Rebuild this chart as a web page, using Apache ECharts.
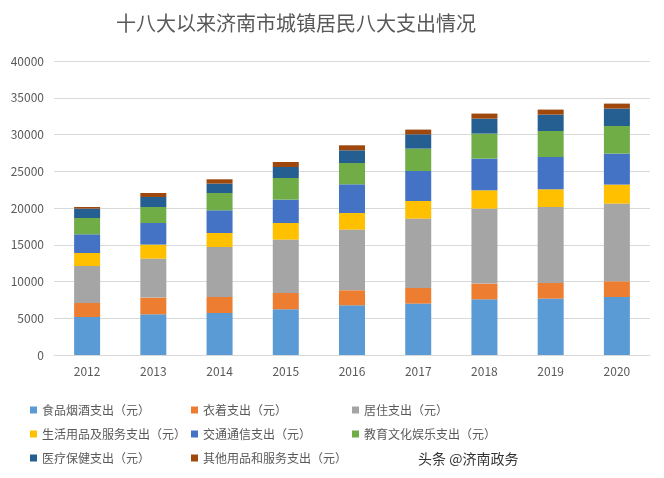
<!DOCTYPE html>
<html>
<head>
<meta charset="utf-8">
<script src="https://cdn.jsdelivr.net/npm/echarts@6/dist/echarts.min.js"></script>
<style>html,body{margin:0;padding:0;background:#fff;}#c{width:664px;height:478px;}</style>
</head>
<body>
<div id="c"></div>
<script>
const years = ['2012','2013','2014','2015','2016','2017','2018','2019','2020'];
const seriesNames = ['食品烟酒支出（元）','衣着支出（元）','居住支出（元）','生活用品及服务支出（元）','交通通信支出（元）','教育文化娱乐支出（元）','医疗保健支出（元）','其他用品和服务支出（元）'];
const food      = [5170, 5537, 5714, 6218, 6762, 6993, 7578, 7673, 7891];
const clothing  = [1905, 2273, 2177, 2217, 2041, 2123, 2136, 2123, 2136];
const housing   = [5034, 5306, 6803, 7266, 8258, 9442, 10204, 10340, 10572];
const daily     = [1769, 1904, 1905, 2258, 2259, 2394, 2490, 2408, 2585];
const transport = [2544, 2939, 3088, 3184, 3904, 4082, 4313, 4395, 4217];
const education = [2217, 2177, 2354, 2939, 2898, 3048, 3401, 3537, 3755];
const medical   = [1279, 1361, 1279, 1496, 1728, 1945, 2041, 2231, 2368];
const other     = [218, 544, 585, 681, 681, 640, 681, 681, 680];
const colors = ['#5B9BD5','#ED7D31','#A5A5A5','#FFC000','#4472C4','#70AD47','#255E91','#9E480E'];
const values = [food, clothing, housing, daily, transport, education, medical, other];

const font = '"Noto Sans CJK SC", "Noto Sans", sans-serif';
const chart = echarts.init(document.getElementById('c'));
const colLeft = [25, 186, 347];
const rowTop = [399, 423, 447];
const legends = seriesNames.map((n, i) => ({
  left: colLeft[i % 3], top: rowTop[Math.floor(i / 3)],
  itemWidth: 7, itemHeight: 7, itemGap: 0, icon: 'rect', data: [n],
  textStyle: { fontFamily: font, fontSize: 12, color: '#595959' }
}));
chart.setOption({
  animation: false,
  color: colors,
  title: {
    text: '十八大以来济南市城镇居民八大支出情况',
    left: 111, top: 8,
    textStyle: { fontFamily: font, fontSize: 20, fontWeight: 'normal', color: '#595959' }
  },
  legend: legends,
  grid: { left: 54, right: 14, top: 61, bottom: 123 },
  xAxis: {
    type: 'category', data: years,
    axisTick: { show: false },
    axisLine: { lineStyle: { color: '#d9d9d9' } },
    axisLabel: { fontFamily: font, fontSize: 12, color: '#595959', margin: 10 }
  },
  yAxis: {
    type: 'value', min: 0, max: 40000, interval: 5000,
    axisLine: { show: false }, axisTick: { show: false },
    splitLine: { lineStyle: { color: '#d9d9d9' } },
    axisLabel: { fontFamily: font, fontSize: 12, color: '#595959', margin: 10, formatter: v => String(v) }
  },
  graphic: [{
    type: 'text', left: 418, top: 452,
    style: { text: '头条 @济南政务', fontFamily: font, fontSize: 14, fill: '#333' }
  }],
  series: seriesNames.map((n, i) => ({
    name: n, type: 'bar', stack: 'total', barWidth: 26, data: values[i]
  }))
});
</script>
</body>
</html>
